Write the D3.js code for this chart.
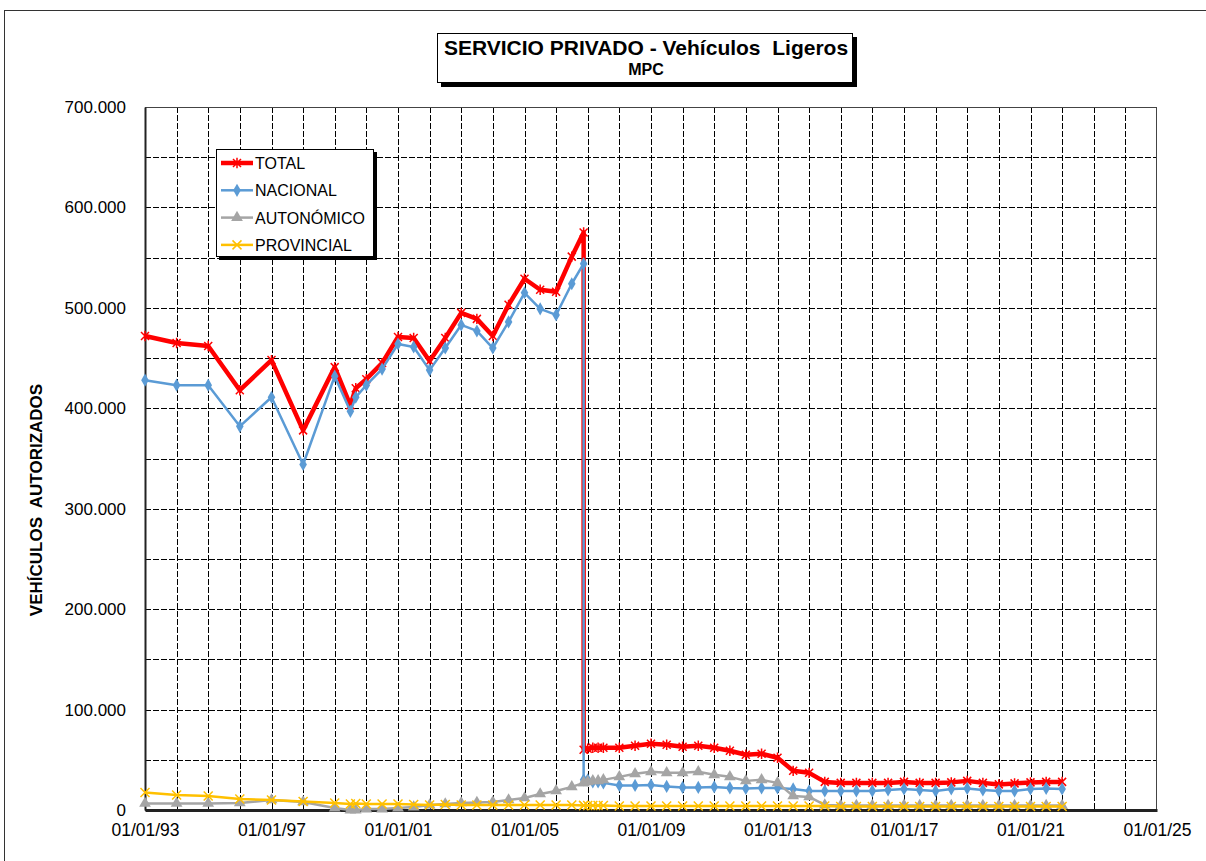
<!DOCTYPE html>
<html>
<head>
<meta charset="utf-8">
<script src="https://cdn.jsdelivr.net/npm/d3@7"></script>
<style>
  body { margin: 0; background: #fff; }
  svg { display: block; font-family: "Liberation Sans", Arial, sans-serif; }
  .pre { white-space: pre; }
</style>
</head>
<body>
<div id="chart"></div>
<script>
// fechas de cada registro (la caída de 2006 se repite con dos valores)
const dates = [
  '1993-01-01','1994-01-01','1995-01-01','1996-01-01','1997-01-01','1998-01-01',
  '1999-01-01','1999-07-01','1999-09-01','2000-01-01','2000-07-01','2001-01-01',
  '2001-07-01','2002-01-01','2002-07-01','2003-01-01','2003-07-01','2004-01-01',
  '2004-07-01','2005-01-01','2005-07-01','2006-01-01','2006-07-01','2006-11-15',
  '2006-11-15','2007-01-01','2007-03-01','2007-05-01','2007-07-01','2008-01-01',
  '2008-07-01','2009-01-01','2009-07-01','2010-01-01','2010-07-01','2011-01-01',
  '2011-07-01','2012-01-01','2012-07-01','2013-01-01','2013-07-01','2014-01-01',
  '2014-07-01','2015-01-01','2015-07-01','2016-01-01','2016-07-01','2017-01-01',
  '2017-07-01','2018-01-01','2018-07-01','2019-01-01','2019-07-01','2020-01-01',
  '2020-07-01','2021-01-01','2021-07-01','2022-01-01'
];

const total = [
  472000,465000,462000,418000,448000,378000,441000,403000,420000,429000,445000,471000,
  470000,447000,470000,495000,489000,472000,503000,529000,518000,516000,551000,575000,
  60000,61000,62000,62000,62000,62000,64000,66000,65000,63000,64000,62000,
  59000,55000,56000,52000,39000,37000,28000,27000,27000,27000,27000,28000,
  27000,27000,27500,29000,27000,25500,26500,27500,28000,28000
];

const nacional = [
  428000,423000,423000,382000,411000,344000,432000,397000,411000,423000,439000,464000,
  461000,438000,460000,483000,477000,460000,486000,515000,499000,493000,524000,544000,
  30000,30000,28000,28000,27000,24500,24500,25000,23500,22500,22500,23000,
  22000,21500,22000,22000,21000,19000,19000,19000,19000,19000,20000,21000,
  20000,19000,21000,21500,20000,19000,19000,21000,21500,21000
];

const autonomico = [
  6500,6500,6500,7000,10000,8000,2000,0,0,1000,1000,2000,
  3000,5000,6000,7000,7500,8000,10000,12000,16000,19000,23000,27000,
  27000,28000,29000,29000,30000,33000,36000,38000,37000,37000,38000,35000,
  33000,29000,30000,27000,14000,13000,5000,4500,4500,4500,4500,4600,
  4500,4500,4500,4600,4500,4400,4400,4500,4500,4500
];

const provincial = [
  17500,15000,14000,11000,10000,8500,7000,6000,6500,6000,6000,6000,
  5500,5000,5500,5000,5000,5000,5000,5000,5000,5000,5000,4500,
  4500,4500,4500,4500,4500,4000,4000,4000,4000,4000,4000,4000,
  4000,4000,4000,4000,4000,4000,4000,3500,3500,3500,3500,3500,
  3500,3500,3500,3500,3500,3500,3500,3500,3500,3500
];

const seriesNames = ['TOTAL', 'NACIONAL', 'AUTONÓMICO', 'PROVINCIAL'];
const xTickLabels = ['01/01/93','01/01/97','01/01/01','01/01/05','01/01/09','01/01/13','01/01/17','01/01/21','01/01/25'];
const yTicks = [0, 100000, 200000, 300000, 400000, 500000, 600000, 700000];

function makeChart() {
  const w = 1206, h = 861;
  const parse = d3.timeParse('%Y-%m-%d');
  const fmtDate = d3.timeFormat('%d/%m/%y');
  const es = d3.formatLocale({decimal: ',', thousands: '.', grouping: [3], currency: ['', '']});
  const fmtNum = es.format(',.0f');

  const svg = d3.select('#chart').append('svg').attr('width', w).attr('height', h);

  // marco exterior
  svg.append('rect').attr('x', 4.5).attr('y', 10.5).attr('width', 1220).attr('height', 870)
    .attr('fill', 'none').attr('stroke', '#333').attr('stroke-width', 1);

  const xScale = d3.scaleTime()
    .domain([parse('1993-01-01'), parse('2025-01-01')])
    .range([145, 1157]);
  const yScale = d3.scaleLinear()
    .domain([0, 700000])
    .range([810, 107]);

  // rejilla
  const grid = svg.append('g');
  const yearTicks = d3.timeYear.range(parse('1994-01-01'), parse('2025-01-01'));
  grid.selectAll('line.v').data(yearTicks).enter().append('line')
    .attr('x1', d => Math.round(xScale(d)) + 0.5).attr('x2', d => Math.round(xScale(d)) + 0.5)
    .attr('y1', 107).attr('y2', 810)
    .attr('stroke', '#000').attr('stroke-width', 1).attr('stroke-dasharray', '6,2');
  grid.selectAll('line.h').data(d3.range(50000, 700000, 50000)).enter().append('line')
    .attr('x1', 145).attr('x2', 1157)
    .attr('y1', d => Math.round(yScale(d)) + 0.5).attr('y2', d => Math.round(yScale(d)) + 0.5)
    .attr('stroke', '#000').attr('stroke-width', 1).attr('stroke-dasharray', '6,2');

  // borde del área de trazado
  svg.append('rect').attr('x', 145.5).attr('y', 107.5).attr('width', 1011).attr('height', 703)
    .attr('fill', 'none').attr('stroke', '#444').attr('stroke-width', 1);

  // ejes
  const xAxis = d3.axisBottom(xScale)
    .tickValues(xTickLabels.map(s => d3.timeParse('%d/%m/%y')(s)))
    .tickFormat(fmtDate).tickSize(0).tickPadding(14);
  const xAxisGroup = svg.append('g').attr('transform', 'translate(0, 810)').call(xAxis);
  xAxisGroup.select('.domain').attr('stroke', '#222').attr('stroke-width', 3);
  xAxisGroup.selectAll('text').attr('font-size', 17.5).attr('fill', '#000')
    .attr('font-family', '"Liberation Sans", Arial, sans-serif');

  const yAxis = d3.axisLeft(yScale).tickValues(yTicks).tickFormat(fmtNum).tickSize(0).tickPadding(19);
  const yAxisGroup = svg.append('g').attr('transform', 'translate(145, 0)').call(yAxis);
  yAxisGroup.select('.domain').attr('stroke', '#222').attr('stroke-width', 2);
  yAxisGroup.selectAll('text').attr('font-size', 17).attr('fill', '#000')
    .attr('font-family', '"Liberation Sans", Arial, sans-serif');

  svg.append('text')
    .classed('pre', true)
    .attr('transform', 'rotate(-90)')
    .attr('x', -500).attr('y', 42)
    .attr('text-anchor', 'middle')
    .attr('font-size', 17).attr('font-weight', 'bold')
    .text('VEHÍCULOS  AUTORIZADOS');

  // series
  const star = s => `M${-s},${-s}L${s},${s}M${-s},${s}L${s},${-s}M0,${-s * 1.3}L0,${s * 1.3}`;
  const cross = s => `M${-s},${-s}L${s},${s}M${-s},${s}L${s},${-s}`;
  const series = [
    {name: seriesNames[0], values: total, color: '#FF0000', width: 4.5,
     marker: s => star(s), mSize: 4, mFill: 'none', mStroke: 1.5},
    {name: seriesNames[1], values: nacional, color: '#5B9BD5', width: 2.5,
     marker: s => d3.symbol(d3.symbolDiamond, 50)(), mSize: 4, mFill: '#5B9BD5', mStroke: 0},
    {name: seriesNames[2], values: autonomico, color: '#A5A5A5', width: 2.5,
     marker: s => d3.symbol(d3.symbolTriangle, 60)(), mSize: 4, mFill: '#A5A5A5', mStroke: 0},
    {name: seriesNames[3], values: provincial, color: '#FFC000', width: 2.5,
     marker: s => cross(s), mSize: 4.5, mFill: 'none', mStroke: 1.5}
  ];

  const line = d3.line().x(d => xScale(d.date)).y(d => yScale(d.value));

  series.forEach(s => {
    const pts = dates.map((d, i) => ({date: parse(d), value: s.values[i]}));
    const g = svg.append('g');
    g.append('path').datum(pts)
      .attr('d', line).attr('fill', 'none')
      .attr('stroke', s.color).attr('stroke-width', s.width)
      .attr('stroke-linejoin', 'round');
    g.selectAll('path.m').data(pts).enter().append('path')
      .attr('transform', d => `translate(${xScale(d.date)},${yScale(d.value)})`)
      .attr('d', s.marker(s.mSize))
      .attr('fill', s.mFill)
      .attr('stroke', s.mStroke ? s.color : 'none')
      .attr('stroke-width', s.mStroke);
  });

  // leyenda
  svg.append('rect').attr('x', 219).attr('y', 152).attr('width', 158).attr('height', 108).attr('fill', '#000');
  svg.append('rect').attr('x', 216.5).attr('y', 149.5).attr('width', 157).attr('height', 107)
    .attr('fill', '#fff').attr('stroke', '#000').attr('stroke-width', 1);
  const legend = svg.append('g').selectAll('g').data(series).enter().append('g')
    .attr('transform', (d, i) => `translate(0, ${163 + i * 27.3})`);
  legend.append('line').attr('x1', 221).attr('x2', 253).attr('y1', 0).attr('y2', 0)
    .attr('stroke', d => d.color).attr('stroke-width', d => d.width);
  legend.append('path').attr('transform', 'translate(237,0)')
    .attr('d', d => d.marker(d.mSize))
    .attr('fill', d => d.mFill)
    .attr('stroke', d => d.mStroke ? d.color : 'none')
    .attr('stroke-width', d => d.mStroke);
  legend.append('text').attr('x', 255).attr('y', 6)
    .attr('font-size', 16).text(d => d.name);

  // título
  svg.append('rect').attr('x', 441).attr('y', 37).attr('width', 416).attr('height', 50).attr('fill', '#000');
  svg.append('rect').attr('x', 437.5).attr('y', 33.5).attr('width', 415).attr('height', 49)
    .attr('fill', '#fff').attr('stroke', '#000').attr('stroke-width', 1);
  svg.append('text').classed('pre', true).attr('x', 646).attr('y', 55)
    .attr('text-anchor', 'middle').attr('font-size', 21).attr('font-weight', 'bold')
    .text('SERVICIO PRIVADO - Vehículos  Ligeros');
  svg.append('text').attr('x', 646).attr('y', 75)
    .attr('text-anchor', 'middle').attr('font-size', 16).attr('font-weight', 'bold')
    .text('MPC');
}

window.onload = function() {
  makeChart();
};
</script>
</body>
</html>
